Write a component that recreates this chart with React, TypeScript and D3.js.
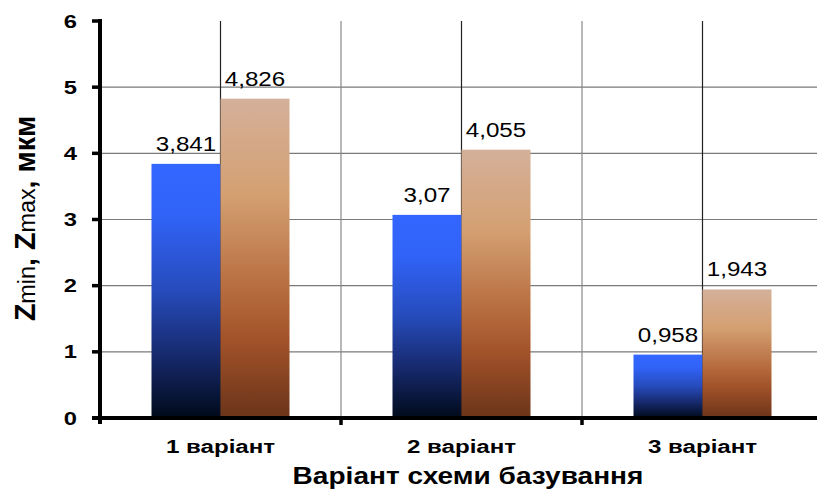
import React, { useEffect, useRef } from "react";
import * as d3 from "d3";

const categories = ["1 варіант", "2 варіант", "3 варіант"];
const zMin = [3.841, 3.07, 0.958];
const zMax = [4.826, 4.055, 1.943];
const zMinLabels = ["3,841", "3,07", "0,958"];
const zMaxLabels = ["4,826", "4,055", "1,943"];
const yTicks = [0, 1, 2, 3, 4, 5, 6];

const FONT = "'Liberation Sans', Arial, sans-serif";

export default function App() {
  const svgRef = useRef<SVGSVGElement>(null);

  useEffect(() => {
    const svg = d3.select(svgRef.current);
    svg.selectAll("*").remove();

    const left = 100;
    const right = 823;
    const top = 21;
    const bottom = 418;

    const x = d3.scaleBand<string>().domain(categories).range([left, right]).padding(0);
    const y = d3.scaleLinear().domain([0, 6]).range([bottom, top]);
    const groupW = 138;
    const inner = d3.scaleBand<string>().domain(["min", "max"]).range([0, groupW]).padding(0);

    const defs = svg.append("defs");
    const blue = defs.append("linearGradient").attr("id", "gBlue")
      .attr("x1", 0).attr("y1", 0).attr("x2", 0).attr("y2", 1);
    [[0, "#3366ff"], [0.2, "#3163f8"], [0.5, "#264bbb"], [0.75, "#172a6e"], [1, "#000a1a"]]
      .forEach(([o, c]) => blue.append("stop").attr("offset", o as number).attr("stop-color", c as string));
    const brown = defs.append("linearGradient").attr("id", "gBrown")
      .attr("x1", 0).attr("y1", 0).attr("x2", 0).attr("y2", 1);
    [[0, "#d4b09a"], [0.3, "#d4a072"], [0.6, "#b66c3e"], [0.75, "#a3532a"], [1, "#6b3419"]]
      .forEach(([o, c]) => brown.append("stop").attr("offset", o as number).attr("stop-color", c as string));

    // horizontal gridlines
    svg.append("g").selectAll("line")
      .data(yTicks.filter(t => t > 0 && t < 6))
      .join("line")
      .attr("x1", left).attr("x2", 817)
      .attr("y1", d => y(d)).attr("y2", d => y(d))
      .attr("stroke", "#7a7a7a").attr("stroke-width", 1.2);

    // vertical gridlines: category centers and boundaries
    const centers = categories.map(c => x(c)! + x.bandwidth() / 2);
    const bounds = categories.slice(1).map(c => x(c)!);
    svg.append("g").selectAll("line")
      .data(centers)
      .join("line")
      .attr("x1", d => d).attr("x2", d => d)
      .attr("y1", top).attr("y2", bottom)
      .attr("stroke", "#222").attr("stroke-width", 1.2);
    svg.append("g").selectAll("line")
      .data(bounds)
      .join("line")
      .attr("x1", d => d).attr("x2", d => d)
      .attr("y1", top).attr("y2", bottom)
      .attr("stroke", "#888").attr("stroke-width", 1.2);

    // bars
    const groups = svg.append("g").selectAll("g")
      .data(categories)
      .join("g")
      .attr("transform", d => `translate(${x(d)! + (x.bandwidth() - groupW) / 2},0)`);

    groups.append("rect")
      .attr("x", inner("min")!)
      .attr("width", inner.bandwidth())
      .attr("y", (d, i) => y(zMin[i]))
      .attr("height", (d, i) => bottom - y(zMin[i]))
      .attr("fill", "url(#gBlue)");
    groups.append("rect")
      .attr("x", inner("max")!)
      .attr("width", inner.bandwidth())
      .attr("y", (d, i) => y(zMax[i]))
      .attr("height", (d, i) => bottom - y(zMax[i]))
      .attr("fill", "url(#gBrown)");

    // value labels (text in the reference is wider than Arial, so stretch it)
    groups.append("text")
      .attr("transform", (d, i) =>
        `translate(${inner("min")! + inner.bandwidth() / 2},${y(zMin[i]) - 13}) scale(1.18,1)`)
      .attr("text-anchor", "middle")
      .style("font-family", FONT).style("font-size", "20.5px")
      .text((d, i) => zMinLabels[i]);
    groups.append("text")
      .attr("transform", (d, i) =>
        `translate(${inner("max")! + inner.bandwidth() / 2},${y(zMax[i]) - 13}) scale(1.18,1)`)
      .attr("text-anchor", "middle")
      .style("font-family", FONT).style("font-size", "20.5px")
      .text((d, i) => zMaxLabels[i]);

    // axes
    svg.append("line")
      .attr("x1", left).attr("x2", left).attr("y1", top - 2).attr("y2", bottom + 6)
      .attr("stroke", "#000").attr("stroke-width", 4);
    svg.append("line")
      .attr("x1", left - 8).attr("x2", 817).attr("y1", bottom).attr("y2", bottom)
      .attr("stroke", "#000").attr("stroke-width", 4);

    svg.append("g").selectAll("line")
      .data(yTicks)
      .join("line")
      .attr("x1", left - 8).attr("x2", left)
      .attr("y1", d => y(d)).attr("y2", d => y(d))
      .attr("stroke", "#000").attr("stroke-width", 3.5);
    svg.append("g").selectAll("line")
      .data(bounds)
      .join("line")
      .attr("x1", d => d).attr("x2", d => d)
      .attr("y1", bottom).attr("y2", bottom + 7)
      .attr("stroke", "#000").attr("stroke-width", 3.5);

    svg.append("g").selectAll("text")
      .data(yTicks)
      .join("text")
      .attr("transform", d => `translate(77,${y(d) + 6.5}) scale(1.25,1)`)
      .attr("text-anchor", "end")
      .style("font-family", FONT).style("font-size", "19px").style("font-weight", "bold")
      .text(d => d);

    svg.append("g").selectAll("text")
      .data(categories)
      .join("text")
      .attr("transform", d => `translate(${x(d)! + x.bandwidth() / 2},453) scale(1.27,1)`)
      .attr("text-anchor", "middle")
      .style("font-family", FONT).style("font-size", "19px").style("font-weight", "bold")
      .text(d => d);

    svg.append("text")
      .attr("transform", "translate(468,484) scale(1.22,1)")
      .attr("text-anchor", "middle")
      .style("font-family", FONT).style("font-size", "23px").style("font-weight", "bold")
      .text("Варіант схеми базування");

    const yt = svg.append("text")
      .attr("transform", "translate(35,218.5) scale(1.38,1) rotate(-90) scale(1.3,1)")
      .attr("text-anchor", "middle")
      .style("font-family", FONT).style("font-size", "22px").style("font-weight", "bold");
    yt.append("tspan").text("Z");
    yt.append("tspan").style("font-size", "18px").style("font-weight", "normal").text("min");
    yt.append("tspan").text(", Z");
    yt.append("tspan").style("font-size", "18px").style("font-weight", "normal").text("max");
    yt.append("tspan").text(", мкм");
  }, []);

  return (
    <svg
      ref={svgRef}
      width={817}
      height={500}
      style={{ position: "absolute", left: 0, top: 0, background: "#fff" }}
    />
  );
}
